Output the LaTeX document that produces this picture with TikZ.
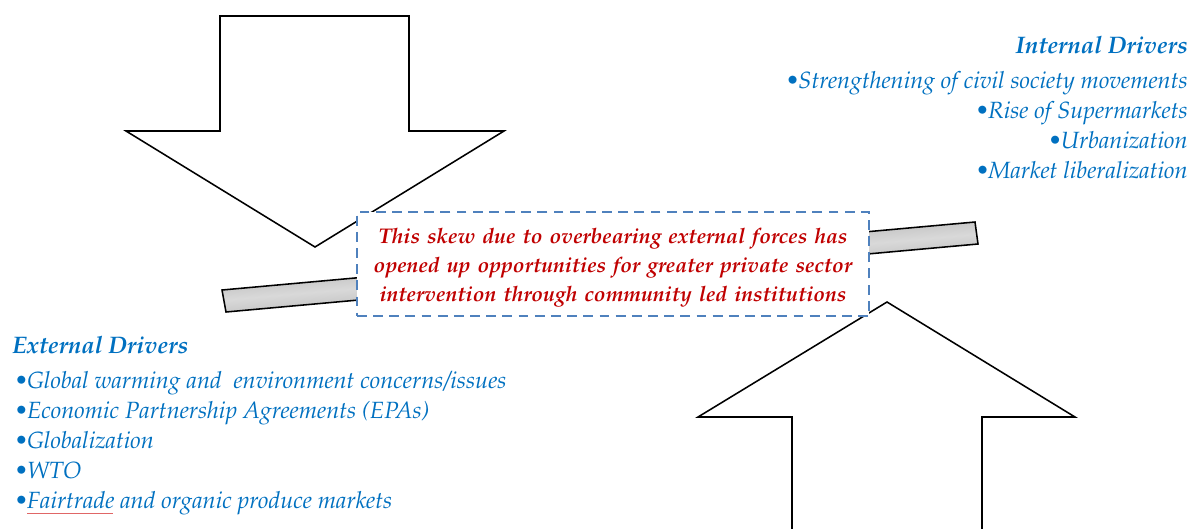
\documentclass[tikz,border=0pt]{standalone}
\usepackage[T1]{fontenc}
\usepackage{mathpazo}
\usepackage{xcolor}
\definecolor{drvblue}{HTML}{0070C0}
\definecolor{skewred}{HTML}{C00000}
\definecolor{boxblue}{HTML}{4F81BD}
\definecolor{spellred}{HTML}{E06666}
\begin{document}
\begin{tikzpicture}[x=0.025cm,y=-0.025cm,
bigarrow/.style={draw=black,line width=1.1pt,fill=white,line join=miter},
drvtitle/.style={text=drvblue,font=\fontsize{17}{20}\selectfont\bfseries\itshape,inner sep=0pt},
drvlist/.style={text=drvblue,font=\fontsize{16.7}{21.3}\selectfont\itshape,inner sep=0pt},
skewbox/.style={draw=boxblue,line width=1.4pt,dash pattern=on 7pt off 4.5pt,fill=white,
  minimum width=12.8cm,minimum height=2.6cm},
skewtext/.style={text width=12.7cm,align=center,inner sep=0pt,
  text=skewred,font=\fontsize{15.1}{20.8}\selectfont\bfseries\itshape}]
\useasboundingbox (0,0) rectangle (1196,528);
% arrows
\draw[bigarrow] (220,16) -- (409,16) -- (409,131) -- (504,131) -- (315,247) -- (126,131) -- (220,131) -- cycle;
\draw[bigarrow] (792,540) -- (792,417) -- (698,417) -- (887,302) -- (1075,417) -- (982,417) -- (982,540);
% tilted bar
\shade[top color=black!50,bottom color=black!50,middle color=black!15,shading angle=5] (222,290) -- (975,222) -- (978,244) -- (226,312) -- cycle;
\draw[line width=1.1pt] (222,290) -- (975,222) -- (978,244) -- (226,312) -- cycle;
% centre text
\node[skewbox] (skew) at (613,264) {};
\node[skewtext] (skewtxt) at (613,268) {This skew due to overbearing external forces has opened up opportunities for greater private sector intervention through community led institutions};
% internal drivers
\node[drvtitle,anchor=east] (intT) at (1188,45) {Internal Drivers};
\node[drvlist,anchor=north east,align=right] (intL) at (1188,71) {\textbullet Strengthening of civil society movements\\ \textbullet Rise of Supermarkets\\ \textbullet Urbanization\\ \textbullet Market liberalization};
% external drivers
\node[drvtitle,anchor=west] (extT) at (12,345) {External Drivers};
\node[drvlist,anchor=north west,align=left] (extL) at (15,371) {\textbullet Global warming and\ \ environment concerns/issues\\ \textbullet Economic Partnership Agreements (EPAs)\\ \textbullet Globalization\\ \textbullet WTO\\ \textbullet \rlap{\color{spellred}\rule[-4pt]{2.15cm}{0.6pt}}Fairtrade and organic produce markets};
\end{tikzpicture}
\end{document}
